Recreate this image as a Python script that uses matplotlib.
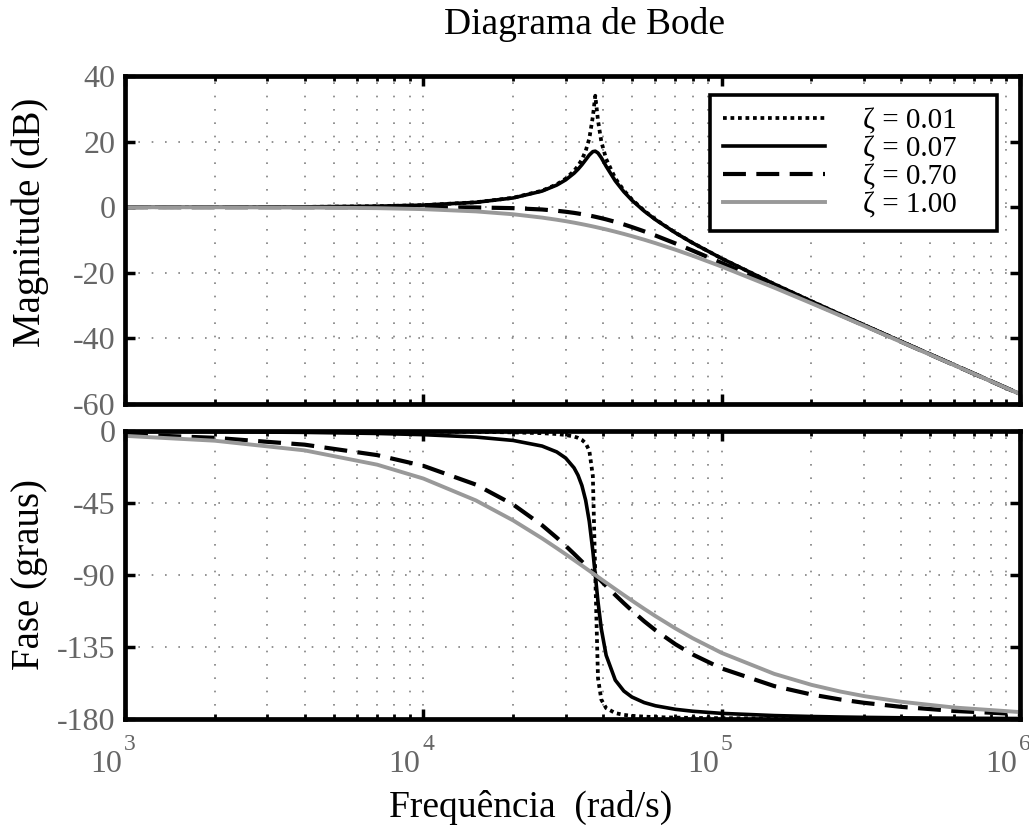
import matplotlib
matplotlib.use("Agg")
import matplotlib.pyplot as plt
from matplotlib.ticker import NullFormatter, LogLocator, FixedLocator
from matplotlib.transforms import blended_transform_factory, offset_copy

plt.rcParams['font.family'] = ['Liberation Serif', 'DejaVu Serif']
plt.rcParams['axes.unicode_minus'] = False

# ---------------- data ----------------
freq = [1e3, 2e3, 4e3, 7e3, 1e4, 1.5e4, 2e4, 2.5e4, 2.8e4, 3e4, 3.2e4, 3.3e4,
        3.4e4, 3.5e4, 3.6e4, 3.7e4, 3.77e4, 3.85e4, 3.95e4, 4.1e4, 4.4e4, 4.7e4,
        5e4, 5.5e4, 6e4, 7e4, 8e4, 1e5, 1.5e5, 2e5, 2.5e5, 3e5, 4e5, 6e5, 1e6]

zeta_labels = ['ζ = 0.01', 'ζ = 0.07', 'ζ = 0.70', 'ζ = 1.00']

mag_z001 = [0.01, 0.02, 0.10, 0.30, 0.63, 1.50, 2.87, 5.03, 6.96, 8.70, 11.06, 12.60,
            14.54, 17.12, 20.90, 27.60, 33.98, 26.47, 20.00, 14.70, 8.80, 5.12,
            2.39, -1.05, -3.71, -7.78, -10.89, -15.62, -23.42, -28.67, -32.66, -35.89,
            -40.95, -48.04, -56.93]
mag_z007 = [0.01, 0.02, 0.10, 0.30, 0.63, 1.48, 2.82, 4.91, 6.74, 8.33, 10.35, 11.57,
            12.94, 14.44, 15.91, 16.94, 17.08, 16.52, 15.08, 12.47, 8.02, 4.72,
            2.14, -1.19, -3.80, -7.82, -10.92, -15.63, -23.43, -28.68, -32.67, -35.89,
            -40.95, -48.04, -56.93]
mag_z070 = [0.00, 0.00, 0.00, 0.00, -0.01, -0.08, -0.29, -0.70, -1.08, -1.39, -1.73, -1.92,
            -2.12, -2.33, -2.54, -2.76, -2.92, -3.11, -3.35, -3.71, -4.47, -5.25,
            -6.05, -7.36, -8.64, -11.05, -13.24, -17.01, -24.00, -28.99, -32.86, -36.03,
            -41.03, -48.07, -56.95]
mag_z100 = [-0.01, -0.02, -0.10, -0.29, -0.59, -1.28, -2.15, -3.17, -3.82, -4.26, -4.71, -4.94,
            -5.17, -5.40, -5.63, -5.86, -6.02, -6.21, -6.44, -6.78, -7.47, -8.15,
            -8.82, -9.91, -10.96, -12.96, -14.81, -18.10, -24.52, -29.29, -33.06, -36.17,
            -41.11, -48.11, -56.96]

ph_z001 = [-0.03, -0.06, -0.12, -0.22, -0.33, -0.54, -0.85, -1.36, -1.90, -2.49, -3.48, -4.28,
           -5.52, -7.66, -12.22, -28.08, -90.0, -154.54, -167.90, -173.21, -176.31, -177.42,
           -178.00, -178.52, -178.81, -179.13, -179.31, -179.50, -179.69, -179.78, -179.82, -179.85,
           -179.89, -179.93, -179.96]
ph_z007 = [-0.21, -0.43, -0.86, -1.54, -2.29, -3.79, -5.90, -9.41, -13.07, -16.90, -23.03, -27.66,
           -34.08, -43.26, -56.60, -75.01, -90.0, -106.70, -123.69, -140.19, -155.72, -162.52,
           -166.25, -169.74, -171.73, -173.94, -175.15, -176.48, -177.85, -178.43, -178.76, -178.98,
           -179.24, -179.49, -179.70]
ph_z070 = [-2.13, -4.26, -8.54, -15.07, -21.77, -33.50, -45.95, -58.89, -66.67, -71.78, -76.76, -79.20,
           -81.59, -83.93, -86.23, -88.47, -90.0, -91.72, -93.81, -96.84, -102.50, -107.62,
           -112.23, -118.92, -124.53, -133.28, -139.69, -148.40, -159.42, -164.70, -167.81, -169.87,
           -172.42, -174.95, -176.97]
ph_z100 = [-3.04, -6.07, -12.11, -21.04, -29.71, -43.39, -55.89, -67.09, -73.21, -77.02, -80.65, -82.39,
           -84.09, -85.75, -87.36, -88.93, -90.0, -91.20, -92.67, -94.81, -98.81, -102.53,
           -105.96, -111.14, -115.71, -123.40, -129.54, -138.69, -151.78, -158.65, -162.85, -165.67,
           -169.23, -172.81, -175.68]

mag_ticks = [-60, -40, -20, 0, 20, 40]
phase_ticks = [-180, -135, -90, -45, 0]
xtick_exponents = [3, 4, 5, 6]

mags = [mag_z001, mag_z007, mag_z070, mag_z100]
phases = [ph_z001, ph_z007, ph_z070, ph_z100]

# ---------------- styles ----------------
styles = [
    dict(color='black', linestyle=(0, (1, 1)), linewidth=2.7),
    dict(color='black', linestyle='-', linewidth=2.6),
    dict(color='black', linestyle=(0, (5.5, 2.5)), linewidth=3.0),
    dict(color='#999999', linestyle='-', linewidth=2.8),
]
TICK_COLOR = '#666666'

W, H = 1029, 825
fig = plt.figure(figsize=(W / 100, H / 100), dpi=100)
L, R = 125, 1020
ax1 = fig.add_axes([L / W, 1 - 404 / H, (R - L) / W, (404 - 76) / H])
ax2 = fig.add_axes([L / W, 1 - 719 / H, (R - L) / W, (719 - 431) / H])

handles = []
for m, p, st in zip(mags, phases, styles):
    h, = ax1.plot(freq, m, **st)
    ax2.plot(freq, p, **st)
    handles.append(h)

grid_kw = dict(color='#808080', linestyle=(0, (1, 7)), linewidth=1.2)
for ax, ticks, lim in [(ax1, mag_ticks, (-60, 40)), (ax2, phase_ticks, (-180, 0))]:
    ax.set_xscale('log')
    ax.set_xlim(10.0 ** xtick_exponents[0], 10.0 ** xtick_exponents[-1])
    ax.set_ylim(*lim)
    ax.yaxis.set_major_locator(FixedLocator(ticks))
    ax.xaxis.set_major_locator(FixedLocator([10.0 ** e for e in xtick_exponents]))
    ax.xaxis.set_minor_locator(LogLocator(base=10, subs=range(2, 10)))
    ax.xaxis.set_major_formatter(NullFormatter())
    ax.xaxis.set_minor_formatter(NullFormatter())
    ax.grid(True, which='both', axis='x', **grid_kw)
    ax.grid(True, which='major', axis='y', **grid_kw)
    ax.tick_params(which='both', direction='in', top=True, right=True,
                   labelsize=23, labelcolor=TICK_COLOR)
    ax.tick_params(which='major', length=7, width=2.5)
    ax.tick_params(which='minor', length=3.5, width=2.0)
    ax.tick_params(axis='y', pad=7)
    for sp in ax.spines.values():
        sp.set_linewidth(3.4)
        sp.set_zorder(5)
    ax.set_axisbelow(True)

# x tick labels "10" with raised exponent, placed at each decade tick
blend = blended_transform_factory(ax2.transData, ax2.transAxes)
for e in xtick_exponents:
    t_base = offset_copy(blend, fig=fig, x=-3, y=-53, units='dots')
    t_exp = offset_copy(blend, fig=fig, x=-1, y=-31, units='dots')
    ax2.text(10.0 ** e, 0, '10', transform=t_base, ha='right', va='baseline',
             fontsize=23, color=TICK_COLOR, clip_on=False)
    ax2.text(10.0 ** e, 0, str(e), transform=t_exp, ha='left', va='baseline',
             fontsize=17, color=TICK_COLOR, clip_on=False)

x0 = (710 - L) / (R - L)
wid = (997 - 710) / (R - L)
ytop = (404 - 95) / (404 - 76)
leg = ax1.legend(handles, zeta_labels, loc='upper left', mode='expand',
                 bbox_to_anchor=(x0, 0, wid, ytop),
                 borderaxespad=0, fontsize=21, handlelength=3.5, handletextpad=1.3,
                 labelspacing=0.05, borderpad=0.45, fancybox=False, framealpha=1,
                 edgecolor='black')
leg.get_frame().set_linewidth(2.6)
leg.set_zorder(10)

fig.text(584 / W, 1 - 34 / H, 'Diagrama de Bode', ha='center', va='baseline', fontsize=27)
fig.text(531 / W, 1 - 817 / H, 'Frequência  (rad/s)', ha='center', va='baseline', fontsize=27)
fig.text(30 / W, 1 - 222 / H, 'Magnitude (dB)', ha='center', va='center', rotation=90, fontsize=28)
fig.text(30 / W, 1 - 575 / H, 'Fase (graus)', ha='center', va='center', rotation=90, fontsize=28)

fig.savefig('out.png', dpi=100)
